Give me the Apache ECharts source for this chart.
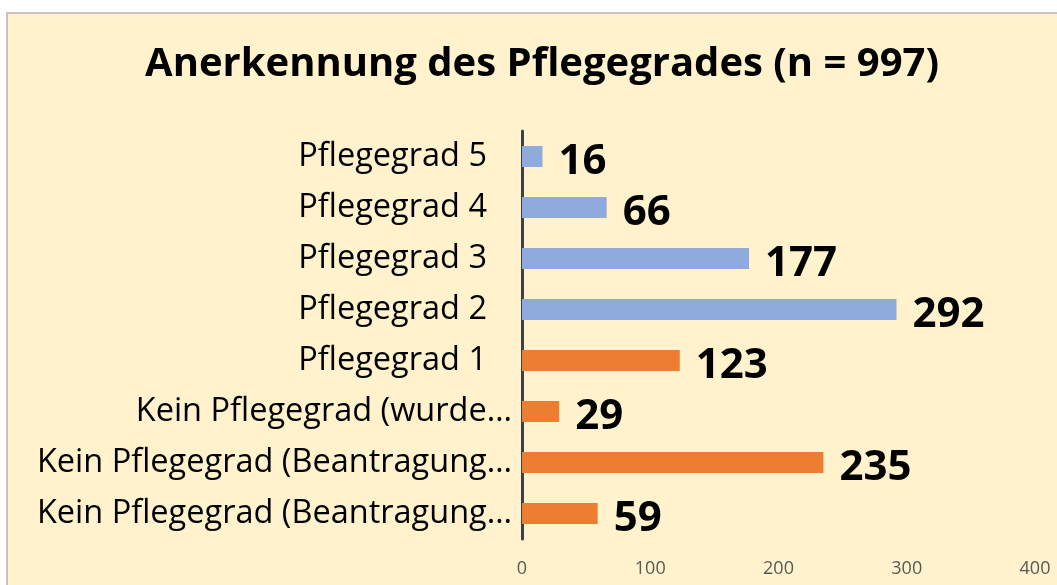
<!DOCTYPE html>
<html>
<head>
<meta charset="utf-8">
<script src="https://cdn.jsdelivr.net/npm/echarts@6/dist/echarts.min.js"></script>
<style>
  html, body { margin: 0; padding: 0; background: #fff; }
  #box {
    position: absolute; left: 6px; top: 12px; width: 1060px; height: 580px;
    background: #FFF2CC; border: 2px solid #C4C4C4; box-sizing: border-box;
  }
  #chart { position: absolute; left: 0; top: 0; width: 1057px; height: 585px; }
</style>
</head>
<body>
<div id="box"></div>
<div id="chart"></div>
<script type="text/javascript">
// Kategorien von oben nach unten
var categories = [
  'Pflegegrad 5',
  'Pflegegrad 4',
  'Pflegegrad 3',
  'Pflegegrad 2',
  'Pflegegrad 1',
  'Kein Pflegegrad (wurde\u2026',
  'Kein Pflegegrad (Beantragung\u2026',
  'Kein Pflegegrad (Beantragung\u2026'
];
var counts = [16, 66, 177, 292, 123, 29, 235, 59];
var xTicks = [0, 100, 200, 300, 400];

var blue = '#8FAADC';
var orange = '#ED7D31';

var myChart = echarts.init(document.getElementById('chart'));
myChart.setOption({
  backgroundColor: 'transparent',
  textStyle: { fontFamily: 'Open Sans' },
  title: {
    text: 'Anerkennung des Pflegegrades (n = 997)',
    left: 537,
    textAlign: 'center',
    top: 40,
    textStyle: { fontFamily: 'Open Sans', fontWeight: 'bold', fontSize: 40, color: '#000' }
  },
  grid: { left: 522, right: 22, top: 131, bottom: 46 },
  xAxis: {
    type: 'value',
    min: xTicks[0],
    max: xTicks[xTicks.length - 1],
    interval: 100,
    axisLine: { show: false },
    axisTick: { show: false },
    splitLine: { show: false },
    axisLabel: { fontFamily: 'Open Sans', fontSize: 18, color: '#595959', margin: 21 }
  },
  yAxis: {
    type: 'category',
    inverse: true,
    data: categories,
    axisLine: { show: true, lineStyle: { color: '#404040', width: 3 } },
    axisTick: { show: false },
    axisLabel: {
      fontFamily: 'Open Sans', fontSize: 32.5, color: '#000', margin: 10,
      // kurze Beschriftungen stehen im Original etwas weiter links
      formatter: function (v) {
        return v.indexOf('\u2026') < 0 ? '{s|' + v + '}' : v;
      },
      rich: {
        s: { fontFamily: 'Open Sans', fontSize: 32.5, color: '#000', padding: [0, 25, 0, 0] }
      }
    }
  },
  series: [{
    type: 'bar',
    data: counts,
    barWidth: 21,
    itemStyle: {
      color: function (p) { return p.dataIndex < 4 ? blue : orange; }
    },
    label: {
      show: true,
      position: 'right',
      distance: 16,
      fontFamily: 'Open Sans',
      fontSize: 42,
      fontWeight: 'bold',
      color: '#000',
      offset: [0, 6]
    }
  }]
});
</script>
</body>
</html>
